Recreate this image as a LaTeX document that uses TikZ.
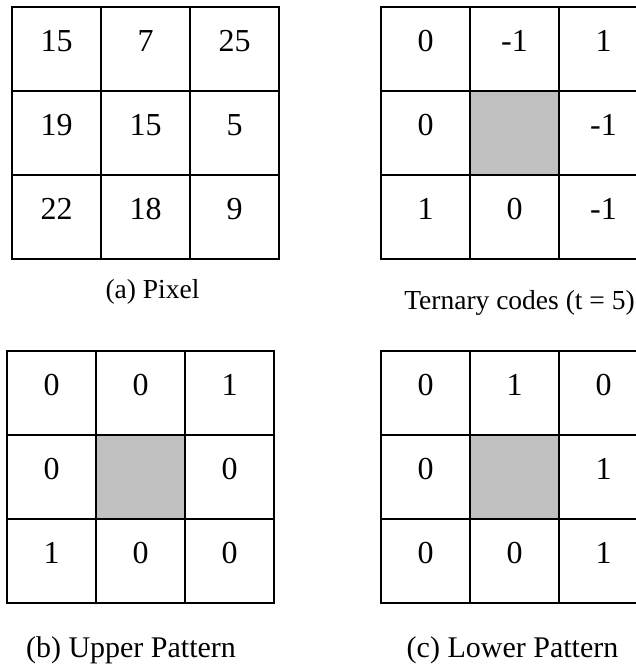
\documentclass[tikz,border=0pt]{standalone}
\usepackage{fontspec}
\setmainfont{Liberation Serif}
\definecolor{cellgray}{RGB}{192,192,192}
\newcommand\numgrid[4]{%
  \foreach \v/\i in {#4} {%
    \pgfmathtruncatemacro\cc{mod(\i,3)}%
    \pgfmathtruncatemacro\rr{\i/3}%
    \node[num] (#1-\i) at ({#2+89*\cc+44.5},{#3+84*\rr+34}) {\v};
  }%
}
\newcommand\gridlines[2]{%
  \draw[gridline] (#1,#2) rectangle ({#1+267},{#2+252});
  \draw[gridline] ({#1+89},#2) -- ({#1+89},{#2+252});
  \draw[gridline] ({#1+178},#2) -- ({#1+178},{#2+252});
  \draw[gridline] (#1,{#2+84}) -- ({#1+267},{#2+84});
  \draw[gridline] (#1,{#2+168}) -- ({#1+267},{#2+168});
}
\begin{document}
\begin{tikzpicture}[x=1pt,y=-1pt,
  gridline/.style={draw=black, line width=2pt},
  num/.style={font=\fontsize{32}{38}\selectfont, inner sep=0pt, anchor=center},
  graycell/.style={fill=cellgray, draw=none, minimum width=89pt, minimum height=84pt, inner sep=0pt},
  captop/.style={font=\fontsize{27.5}{32}\selectfont, anchor=base, inner sep=0pt},
  capbot/.style={font=\fontsize{30}{36}\selectfont, anchor=base, inner sep=0pt}]
\useasboundingbox (0,0) rectangle (636,672);
\fill[white] (0,0) rectangle (636,672);
\begin{scope}
\clip (0,0) rectangle (636,672);
% gray centre cells
\node[graycell] (t-gray) at ({381+89+44.5},{7+84+42}) {};
\node[graycell] (b-gray) at ({7+89+44.5},{351+84+42}) {};
\node[graycell] (c-gray) at ({381+89+44.5},{351+84+42}) {};
% grids
\gridlines{12}{7}
\gridlines{381}{7}
\gridlines{7}{351}
\gridlines{381}{351}
% numbers
\numgrid{a}{12}{7}{15/0,7/1,25/2,19/3,15/4,5/5,22/6,18/7,9/8}
\numgrid{t}{381}{7}{0/0,-1/1,1/2,0/3,-1/5,1/6,0/7,-1/8}
\numgrid{b}{7}{351}{0/0,0/1,1/2,0/3,0/5,1/6,0/7,0/8}
\numgrid{c}{381}{351}{0/0,1/1,0/2,0/3,1/5,0/6,0/7,1/8}
\end{scope}
% captions
\node[captop] (capa) at (152.5,298) {(a) Pixel};
\node[captop] (capt) at (519.5,309) {Ternary codes (t = 5)};
\node[capbot] (capb) at (131,657) {(b) Upper Pattern};
\node[capbot] (capc) at (512.5,657) {(c) Lower Pattern};
\end{tikzpicture}
\end{document}
